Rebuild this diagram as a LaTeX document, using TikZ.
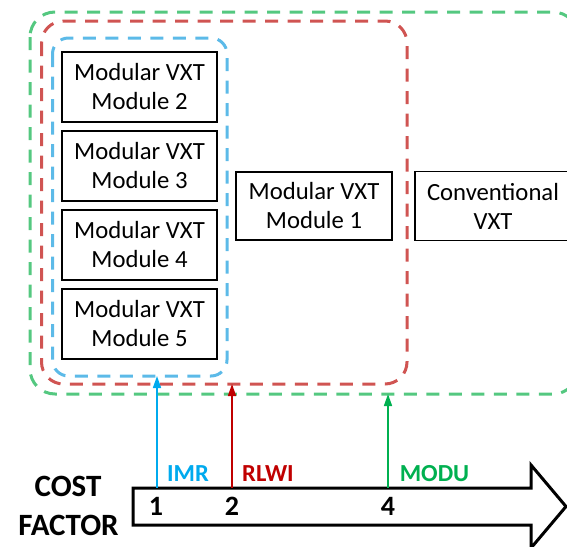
\documentclass[tikz,border=0pt]{standalone}
\usepackage{fontspec}
\setmainfont{Carlito}
\usetikzlibrary{arrows.meta}
\definecolor{bluedash}{RGB}{92,186,232}
\definecolor{reddash}{RGB}{208,84,82}
\definecolor{greendash}{RGB}{84,200,128}
\definecolor{bluearrow}{RGB}{0,170,238}
\definecolor{redarrow}{RGB}{192,0,0}
\definecolor{greenarrow}{RGB}{0,176,80}
\tikzset{
  modbox/.style={draw=black, line width=1.2pt, minimum height=70pt, minimum width=155pt,
    inner sep=0pt, align=center, font=\fontsize{24.7}{29}\selectfont},
  groupline/.style={line width=3pt, dash pattern=on 13pt off 9.5pt},
  costarrow/.style={line width=1.6pt, -{Triangle[length=12pt,width=8pt]}},
  costlabel/.style={anchor=base, font=\fontsize{24.5}{28}\selectfont\bfseries, inner sep=0pt},
  costnum/.style={anchor=base, font=\fontsize{28}{32}\selectfont\bfseries, inner sep=0pt},
  axistitle/.style={anchor=base, font=\fontsize{31}{36}\selectfont\bfseries, inner sep=0pt}
}
\begin{document}
\begin{tikzpicture}[x=1pt, y=-1pt]
\useasboundingbox (0,0) rectangle (567,546);
\clip (0,0) rectangle (567,546);

% nested groupings
\draw[groupline, greendash, rounded corners=25pt] (30,12) rectangle (578,394);
\draw[groupline, reddash, rounded corners=22pt] (41.5,21) rectangle (407,384);
\draw[groupline, bluedash, rounded corners=16pt] (52.5,38) rectangle (227,376);

% modules
\node[modbox] (m2) at (139.5,87) {Modular VXT\\Module 2};
\node[modbox] (m3) at (139.5,166) {Modular VXT\\Module 3};
\node[modbox] (m4) at (139.5,245) {Modular VXT\\Module 4};
\node[modbox] (m5) at (139.5,324) {Modular VXT\\Module 5};
\node[modbox, minimum width=156pt, minimum height=68pt] (m1) at (314,206) {Modular VXT\\Module 1};
\node[modbox, minimum width=156pt, minimum height=69pt] (conv) at (493,206) {Conventional\\VXT};

% cost factor axis
\draw[line width=3pt, fill=white, miter limit=10]
  (133,488) -- (531,488) -- (531,465) -- (566,506.5) -- (531,548) -- (531,525) -- (133,525) -- cycle;
\node[axistitle] (cost) at (68,496) {COST};
\node[axistitle] (factor) at (68.5,535) {FACTOR};

\coordinate (a1) at (157,488);
\coordinate (a2) at (232,488);
\coordinate (a4) at (388,488);
\coordinate (t1) at (157,376);
\coordinate (t2) at (232,384);
\coordinate (t4) at (388,394);

\draw[costarrow, bluearrow] (a1) -- (t1);
\draw[costarrow, redarrow] (a2) -- (t2);
\draw[costarrow, greenarrow] (a4) -- (t4);

\node[costnum] (n1) at (156,515) {1};
\node[costnum] (n2) at (232,515) {2};
\node[costnum] (n4) at (388,515) {4};

\node[costlabel, text=bluearrow] (imr) at (188,481.7) {IMR};
\node[costlabel, text=redarrow] (rlwi) at (268,481.7) {RLWI};
\node[costlabel, text=greenarrow] (modu) at (434.5,481.7) {MODU};
\end{tikzpicture}
\end{document}
